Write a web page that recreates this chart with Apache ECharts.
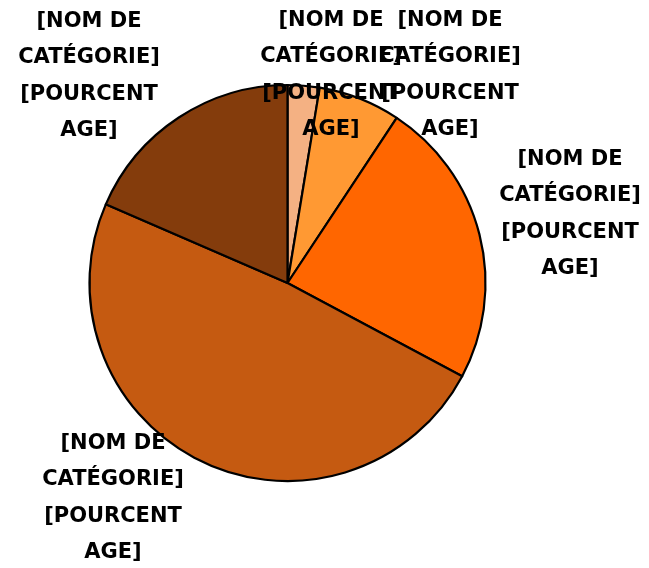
<!DOCTYPE html>
<html>
<head>
<meta charset="utf-8">
<script src="https://cdn.jsdelivr.net/npm/echarts@6/dist/echarts.min.js"></script>
<style>
html,body{margin:0;padding:0;background:#fff;}
#chart{width:649px;height:568px;}
</style>
</head>
<body>
<div id="chart"></div>
<script>
var categories = ['[NOM DE\nCATÉGORIE]', '[NOM DE\nCATÉGORIE]', '[NOM DE\nCATÉGORIE]', '[NOM DE\nCATÉGORIE]', '[NOM DE\nCATÉGORIE]'];
var values = [2.6, 6.7, 23.5, 48.7, 18.5];
var percentLabel = '[POURCENT\nAGE]';
var colors = ['#F4B183', '#FF9933', '#FF6600', '#C55A11', '#843C0C'];

var labelPos = [[331, 75], [450, 75], [570, 214], [113, 498], [89, 76]];

var chart = echarts.init(document.getElementById('chart'), null, {renderer: 'canvas'});
chart.setOption({
  animation: false,
  backgroundColor: '#ffffff',
  series: [{
    type: 'pie',
    center: [287.5, 283],
    radius: 198,
    startAngle: 90,
    clockwise: true,
    avoidLabelOverlap: false,
    data: categories.map(function (c, i) {
      return {name: c, value: values[i], itemStyle: {color: colors[i]}};
    }),
    itemStyle: {
      borderColor: '#000',
      borderWidth: 2.2
    },
    label: {
      show: true,
      position: 'outside',
      formatter: function (p) { return p.name + '\n' + percentLabel; },
      fontFamily: 'DejaVu Sans',
      fontWeight: 'bold',
      fontSize: 21,
      lineHeight: 36.5,
      color: '#000',
      align: 'center'
    },
    labelLine: {show: false},
    labelLayout: function (params) {
      var p = labelPos[params.dataIndex];
      return {x: p[0], y: p[1], align: 'center', verticalAlign: 'middle'};
    },
    emphasis: {disabled: true}
  }]
});
</script>
</body>
</html>
